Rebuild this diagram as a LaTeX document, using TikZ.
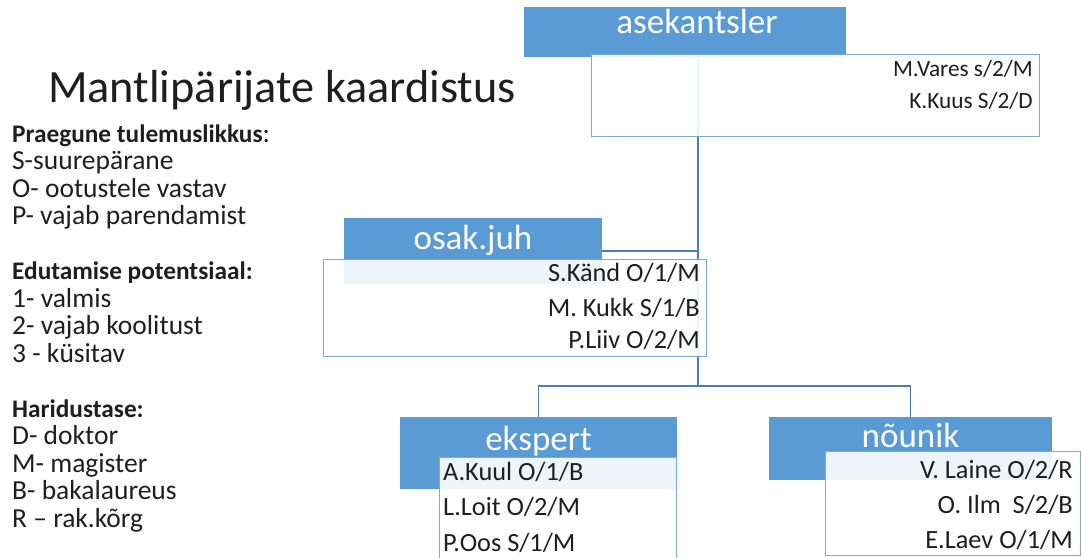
\documentclass[tikz,border=0pt]{standalone}
\usepackage{fontspec}
\setmainfont{Carlito}
\usetikzlibrary{positioning}

\definecolor{headblue}{RGB}{91,155,213}
\definecolor{boxline}{RGB}{125,168,218}
\definecolor{linkblue}{RGB}{72,125,185}
\definecolor{ink}{RGB}{30,30,30}

\newcommand{\legendhead}[1]{{\fontsize{25.3}{27.5}\selectfont\bfseries #1}}

\begin{document}
\begin{tikzpicture}[x=1pt, y=-1pt,
    header/.style={fill=headblue, inner sep=0pt, text=white, align=center, anchor=base, font=\fontsize{35}{40}\selectfont},
    card/.style={draw=boxline, line width=1.2pt, fill=white, fill opacity=0.9, inner sep=0pt, anchor=north west},
    entry/.style={font=\fontsize{26.3}{30}\selectfont, text=ink, inner sep=0pt},
    topentry/.style={entry, font=\fontsize{23.3}{28}\selectfont, anchor=base east},
    legend/.style={entry, font=\fontsize{27.5}{30}\selectfont, anchor=base west},
    link/.style={draw=linkblue, line width=1.5pt}
]
    \useasboundingbox (0,0) rectangle (1081,557);

    % --- TITLE ---
    \node[font=\fontsize{46.3}{54}\selectfont, text=ink, inner sep=0pt, anchor=base west] (title) at (48,102) {Mantlipärijate kaardistus};

    % --- LEGEND ---
    \foreach \txt [count=\i from 0] in {{\legendhead{Praegune tulemuslikkus}:}, S-suurepärane, O- ootustele vastav, P- vajab parendamist} {
        \node[legend] (perf-\i) at (12, 142+27.5*\i) {\txt};
    }
    \foreach \txt [count=\i from 0] in {\legendhead{Edutamise potentsiaal:}, 1- valmis, 2- vajab koolitust, 3 - küsitav} {
        \node[legend] (pot-\i) at (12, 279.5+27.5*\i) {\txt};
    }
    \foreach \txt [count=\i from 0] in {\legendhead{Haridustase:}, D- doktor, M- magister, B- bakalaureus, R – rak.kõrg} {
        \node[legend] (edu-\i) at (12, 417+27.5*\i) {\txt};
    }

    % --- POSITION HEADERS ---
    \node[header, text width=322pt, text height=26pt, text depth=24pt] (asek) at (685,33) {\hspace*{24pt}asekantsler};
    \node[header, text width=258pt, text height=31pt, text depth=35pt] (osak) at (473,249) {osak.juh};
    \node[header, text width=277pt, text height=33pt, text depth=39pt] (eksp) at (538.5,450) {ekspert};
    \node[header, text width=283pt, text height=30pt, text depth=33pt] (noun) at (910.5,447) {nõunik};

    % --- CONNECTORS ---
    \coordinate (split) at (698,386);
    \draw[link] (asek.south -| split) -- (split);
    \draw[link] (osak.east -| split) -- (osak.east);
    \draw[link] (split) -| (eksp.north);
    \draw[link] (split) -| (noun.north);

    % --- NAME CARDS ---
    \node[card, minimum width=448pt, minimum height=82pt] (asekbox) at (591,54) {};
    \node[card, minimum width=383pt, minimum height=97pt] (osakbox) at (323,259) {};
    \node[card, minimum width=237pt, minimum height=115pt] (ekspbox) at (439,457) {};
    \node[card, minimum width=255pt, minimum height=104pt] (nounbox) at (825,451) {};

    % names: right aligned except ekspert
    \node[topentry] (vares) at (1033,76) {M.Vares s/2/M};
    \node[topentry] (kuus) at (1033,108) {K.Kuus S/2/D};

    \node[entry, anchor=base east] (kand) at (700,281) {S.Känd O/1/M};
    \node[entry, anchor=base east] (kukk) at (700,316) {M. Kukk S/1/B};
    \node[entry, anchor=base east] (liiv) at (700,348) {P.Liiv O/2/M};

    \node[entry, anchor=base west] (kuul) at (443,480) {A.Kuul O/1/B};
    \node[entry, anchor=base west] (loit) at (443,515) {L.Loit O/2/M};
    \node[entry, anchor=base west] (oos) at (443,551) {P.Oos S/1/M};

    \node[entry, anchor=base east] (laine) at (1073,478) {V. Laine O/2/R};
    \node[entry, anchor=base east] (ilm) at (1073,513) {O. Ilm~ S/2/B};
    \node[entry, anchor=base east] (laev) at (1073,548) {E.Laev O/1/M};

\end{tikzpicture}
\end{document}
